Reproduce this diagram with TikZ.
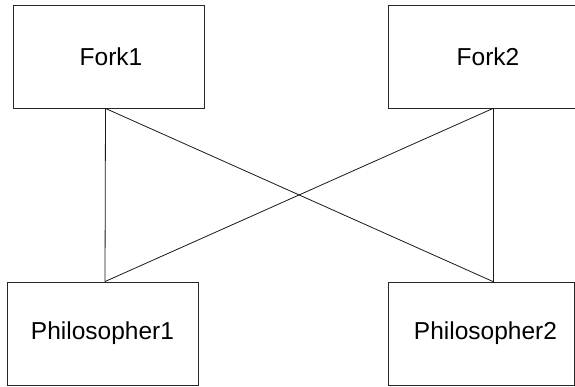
\documentclass[tikz,border=0pt]{standalone}
\usepackage{fontspec}
\setmainfont{Liberation Sans}
\begin{document}
\begin{tikzpicture}[x=1pt,y=-1pt,
  box/.style={draw=black!85, line width=0.9pt, rectangle, minimum height=103pt,
    inner sep=0pt, font=\fontsize{24.5}{28}\selectfont},
  link/.style={draw=black!90, line width=0.8pt}]
\useasboundingbox (0,0) rectangle (575,387);
\clip (0,0) rectangle (575,387);
% resources on top, philosophers below
\node[box, minimum width=191pt] (f1) at (108.5,56.5) {\hspace*{5pt}Fork1};
\node[box, minimum width=200pt] (f2) at (488,56.5) {Fork2};
\node[box, minimum width=191pt] (p1) at (102.5,333.5) {Philosopher1};
\node[box, minimum width=186pt] (p2) at (481,333.5) {\hspace*{9pt}Philosopher2};
% who may pick up which fork
\coordinate (f1b) at ([xshift=-3pt]f1.south);
\coordinate (f2b) at ([xshift=5pt]f2.south);
\coordinate (p1t) at ([xshift=2.5pt]p1.north);
\coordinate (p2t) at ([xshift=12pt]p2.north);
\draw[link] (f1b) -- (p1t);
\draw[link] (f1b) -- (p2t);
\draw[link] (f2b) -- (p1t);
\draw[link] (f2b) -- (p2t);
\end{tikzpicture}
\end{document}
